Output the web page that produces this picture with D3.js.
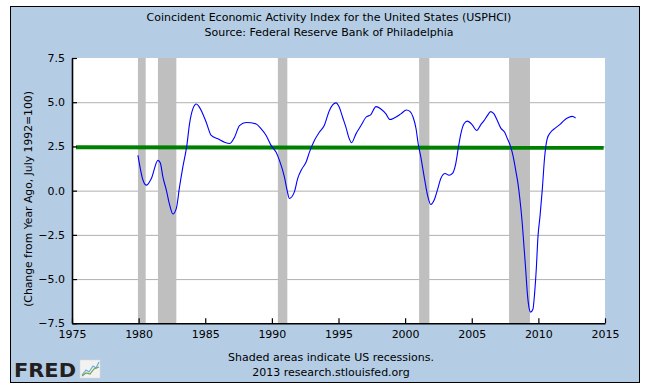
<!DOCTYPE html>
<html>
<head>
<meta charset="utf-8">
<script src="https://cdn.jsdelivr.net/npm/d3@7"></script>
<style>
  html, body { margin: 0; padding: 0; background: #ffffff; }
  svg { display: block; }
  text { font-family: "DejaVu Sans", Verdana, sans-serif; }
</style>
</head>
<body>
<div id="chart"></div>
<script>
// ---- data ----
const years = [1979.95,1980.33,1980.58,1980.95,1981.45,1981.63,1981.82,1982.08,1982.33,1982.57,1982.83,
  1983.07,1983.32,1983.62,1983.82,1984.07,1984.33,1984.57,1985.07,1985.45,1985.95,1986.45,1986.85,1987.2,
  1987.57,1988.07,1988.82,1989.2,1989.57,1989.94,1990.31,1990.57,1990.94,1991.14,1991.31,1991.69,1991.94,
  1992.24,1992.57,1992.82,1993.19,1993.56,1993.94,1994.31,1994.81,1995.06,1995.31,1995.56,1995.81,1995.98,
  1996.31,1996.69,1997.06,1997.43,1997.81,1998.18,1998.56,1998.86,1999.18,1999.68,2000.1,2000.36,2000.6,
  2000.82,2000.98,2001.18,2001.43,2001.68,2001.93,2002.18,2002.42,2002.68,2003.0,2003.3,2003.55,2003.8,
  2004.0,2004.18,2004.42,2004.67,2005.04,2005.37,2005.67,2005.92,2006.17,2006.42,2006.67,2006.92,2007.17,
  2007.47,2007.68,2007.93,2008.12,2008.3,2008.47,2008.62,2008.79,2008.92,2009.05,2009.17,2009.3,2009.42,
  2009.59,2009.72,2009.84,2009.97,2010.12,2010.29,2010.47,2010.66,2010.92,2011.29,2011.67,2011.91,2012.29,
  2012.54,2012.79];
const values = [2.0,0.59,0.31,0.68,1.71,1.56,0.78,0.03,-0.81,-1.32,-1.0,
  0.21,1.34,2.56,3.78,4.62,4.9,4.71,3.87,3.12,2.93,2.74,2.67,3.02,
  3.68,3.85,3.77,3.49,3.12,2.56,2.18,1.71,0.78,0.03,-0.44,-0.07,0.69,
  1.21,1.62,2.18,2.84,3.3,3.7,4.52,4.96,4.71,4.15,3.58,2.93,2.71,
  3.21,3.68,4.15,4.3,4.75,4.62,4.34,4.02,4.11,4.34,4.56,4.48,4.15,
  3.5,2.65,1.9,0.78,-0.25,-0.78,-0.53,0.03,0.69,0.97,0.87,0.97,1.53,
  2.46,3.21,3.78,3.93,3.72,3.4,3.72,3.96,4.24,4.47,4.34,3.96,3.55,
  3.3,2.93,2.46,1.9,1.15,0.4,-0.53,-1.84,-3.16,-4.47,-5.78,-6.62,-6.87,
  -6.71,-5.78,-4.47,-2.6,-1.47,0.03,1.9,2.93,3.3,3.55,3.78,3.96,4.15,
  4.2,4.11];
const trendYears = [1975.3, 2014.9];
const trendValues = [2.45, 2.42];
const recessionStarts = [1979.95, 1981.45, 1990.45, 2001.05, 2007.8];
const recessionEnds   = [1980.53, 1982.83, 1991.16, 2001.82, 2009.37];
const xTicks = [1975,1980,1985,1990,1995,2000,2005,2010,2015];
const yTicks = [-7.5,-5,-2.5,0,2.5,5,7.5];
const gridTicks = [-5,-2.5,0,2.5,5];
const titleLines = ["Coincident Economic Activity Index for the United States (USPHCI)",
                    "Source: Federal Reserve Bank of Philadelphia"];
const yTitle = "(Change from Year Ago, July 1992=100)";
const footerLines = ["Shaded areas indicate US recessions.", "2013 research.stlouisfed.org"];

// ---- drawing ----
const W = 649, H = 389;
const svg = d3.select("#chart").append("svg").attr("width", W).attr("height", H);

// outer panel
svg.append("rect").attr("x", 10.5).attr("y", 6.5).attr("width", 629).attr("height", 376)
  .attr("fill", "#b4cde5").attr("stroke", "#000").attr("stroke-width", 1);

const x = d3.scaleLinear().domain([1975, 2015]).range([72, 605]);
const y = d3.scaleLinear().domain([-7.5, 7.5]).range([323.3, 58]);

// plot background
svg.append("rect").attr("x", x(1975)).attr("y", y(7.5))
  .attr("width", x(2015) - x(1975)).attr("height", y(-7.5) - y(7.5)).attr("fill", "#fff");

// gridlines
const grid = svg.append("g").attr("transform", `translate(${x(1975)},0)`)
  .call(d3.axisLeft(y).tickValues(gridTicks).tickSize(-(x(2015) - x(1975))).tickFormat(""));
grid.select(".domain").remove();
grid.selectAll("line").attr("stroke", "#b0b0b0").attr("stroke-width", 1);

// recessions
svg.append("g").selectAll("rect").data(recessionStarts).join("rect")
  .attr("x", (d) => x(d))
  .attr("width", (d, i) => x(recessionEnds[i]) - x(d))
  .attr("y", y(7.5)).attr("height", y(-7.5) - y(7.5))
  .attr("fill", "#bfbfbf");

// trend line (green)
const trend = trendYears.map((d, i) => [d, trendValues[i]]);
svg.append("path").datum(trend)
  .attr("d", d3.line().x((d) => x(d[0])).y((d) => y(d[1])))
  .attr("fill", "none").attr("stroke", "#008000").attr("stroke-width", 4);

// series (blue)
const series = years.map((d, i) => [d, values[i]]);
svg.append("path").datum(series)
  .attr("d", d3.line().curve(d3.curveMonotoneX).x((d) => x(d[0])).y((d) => y(d[1])))
  .attr("fill", "none").attr("stroke", "#0000ff").attr("stroke-width", 1.1);

// axes
const xAxis = svg.append("g").attr("transform", `translate(0,${y(-7.5)})`)
  .call(d3.axisBottom(x).tickValues(xTicks).tickSize(-5).tickSizeOuter(0).tickPadding(7)
    .tickFormat(d3.format("d")));
const yAxis = svg.append("g").attr("transform", `translate(${x(1975)},0)`)
  .call(d3.axisLeft(y).tickValues(yTicks).tickSize(-5).tickSizeOuter(0).tickPadding(7)
    .tickFormat(d3.format(".1f")));
[xAxis, yAxis].forEach((a) => {
  a.select(".domain").attr("stroke", "#000").attr("stroke-width", 1.6);
  a.selectAll(".tick line").attr("stroke", "#000").attr("stroke-width", 1.2);
  a.selectAll("text").attr("fill", "#000").style("font-size", "11px")
    .style("font-family", '"DejaVu Sans", Verdana, sans-serif');
});

// titles
svg.append("g").selectAll("text").data(titleLines).join("text")
  .attr("x", 329).attr("y", (d, i) => 21 + i * 14.5)
  .attr("text-anchor", "middle").attr("font-size", "11px").attr("fill", "#000")
  .text((d) => d);

svg.append("text").attr("transform", "translate(32,199) rotate(-90)")
  .attr("text-anchor", "middle").attr("font-size", "10.8px").attr("fill", "#000")
  .text(yTitle);

svg.append("g").selectAll("text").data(footerLines).join("text")
  .attr("x", 331).attr("y", (d, i) => 361 + i * 14.5)
  .attr("text-anchor", "middle").attr("font-size", "11px").attr("fill", "#000")
  .text((d) => d);

// FRED logo
svg.append("text").attr("x", 14).attr("y", 377)
  .attr("font-family", '"DejaVu Sans", sans-serif').attr("font-weight", "bold")
  .attr("font-size", "19px").attr("fill", "#231f20")
  .attr("textLength", 62).attr("lengthAdjust", "spacingAndGlyphs")
  .text("FRED");
const logo = svg.append("g");
logo.append("rect").attr("x", 80).attr("y", 360).attr("width", 20).attr("height", 18)
  .attr("fill", "#f2f2f2").attr("stroke", "#d8d8d8").attr("stroke-width", 0.5);
logo.append("path").attr("d", "M82,375 L86,370 L89,372 L93,366 L96,368 L99,362")
  .attr("fill", "none").attr("stroke", "#6fa8dc").attr("stroke-width", 1.2);
logo.append("path").attr("d", "M82,376 L86,373 L90,374 L94,369 L99,367")
  .attr("fill", "none").attr("stroke", "#6aa84f").attr("stroke-width", 1.2);
</script>
</body>
</html>
